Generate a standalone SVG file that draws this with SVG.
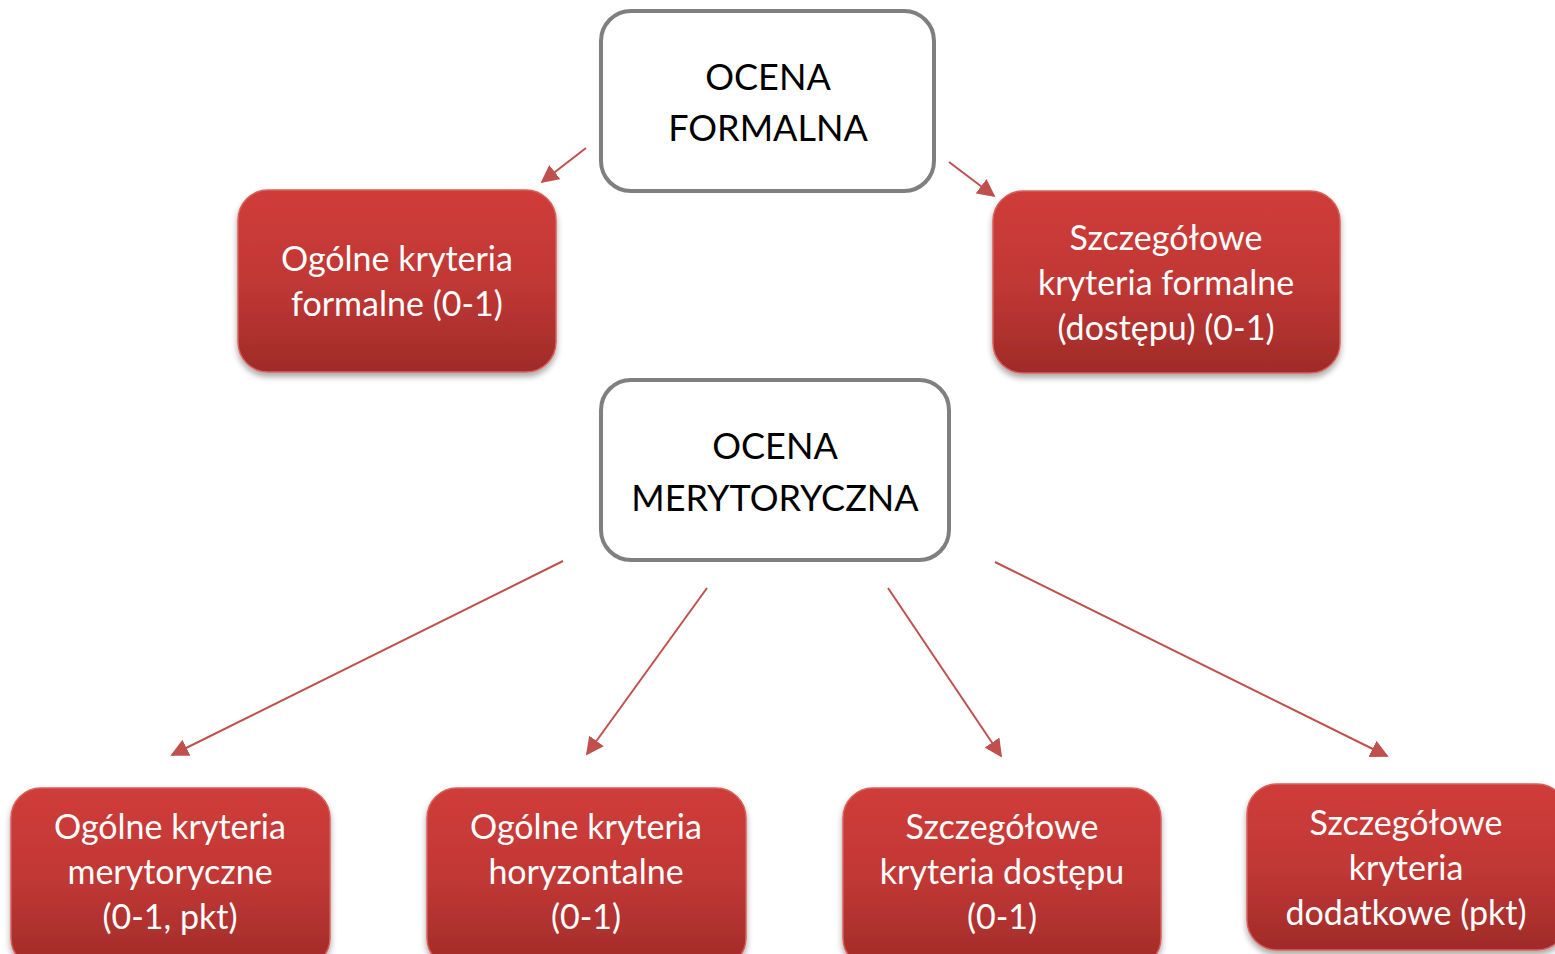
<svg xmlns="http://www.w3.org/2000/svg" width="1555" height="954" viewBox="0 0 1555 954">
  <defs>
    <linearGradient id="redFill" x1="0" y1="0" x2="0" y2="1">
      <stop offset="0" stop-color="#cf3c39"/>
      <stop offset="0.5" stop-color="#c13835"/>
      <stop offset="1" stop-color="#a02b29"/>
    </linearGradient>
    <filter id="shadow" x="-10%" y="-10%" width="120%" height="125%">
      <feGaussianBlur in="SourceAlpha" stdDeviation="3"/>
      <feOffset dx="0" dy="4" result="b"/>
      <feComponentTransfer><feFuncA type="linear" slope="0.35"/></feComponentTransfer>
      <feMerge><feMergeNode/><feMergeNode in="SourceGraphic"/></feMerge>
    </filter>
    <marker id="headBig" viewBox="0 0 10 10" refX="9" refY="5" markerWidth="18" markerHeight="18" markerUnits="userSpaceOnUse" orient="auto">
      <path d="M0,0 L10,5 L0,10 z" fill="#c0504d"/>
    </marker>
  </defs>
  <style>
    .white { fill: #ffffff; stroke: #7f7f7f; stroke-width: 4; }
    .red { fill: url(#redFill); stroke: #d6605c; stroke-width: 1.5; filter: url(#shadow); }
    .dark { font-family: Lato, "Open Sans", sans-serif; font-size: 36px; fill: #000000; text-anchor: middle; }
    .light { font-family: Lato, "Open Sans", sans-serif; font-size: 34px; fill: #ffffff; text-anchor: middle; }
    .conn { stroke: #c0504d; stroke-width: 2; fill: none; }
  </style>

  <g id="connectors">
    <line class="conn" x1="586" y1="148" x2="542" y2="182" marker-end="url(#headBig)"/>
    <line class="conn" x1="949" y1="162" x2="994" y2="196" marker-end="url(#headBig)"/>
    <line class="conn" x1="563" y1="561" x2="172" y2="755" marker-end="url(#headBig)"/>
    <line class="conn" x1="707" y1="588" x2="587" y2="754" marker-end="url(#headBig)"/>
    <line class="conn" x1="888" y1="588" x2="1001" y2="756" marker-end="url(#headBig)"/>
    <line class="conn" x1="995" y1="562" x2="1387" y2="756" marker-end="url(#headBig)"/>
  </g>

  <g id="ocena-formalna">
    <rect class="white" x="601" y="11" width="333" height="180" rx="30"/>
    <text class="dark" x="768" y="90">OCENA</text>
    <text class="dark" x="768" y="141">FORMALNA</text>
  </g>

  <g id="ocena-merytoryczna">
    <rect class="white" x="601" y="380" width="348" height="180" rx="30"/>
    <text class="dark" x="775" y="459">OCENA</text>
    <text class="dark" x="775" y="511">MERYTORYCZNA</text>
  </g>

  <g id="ogolne-formalne">
    <rect class="red" x="238" y="190" width="318" height="182" rx="30"/>
    <text class="light" x="397" y="271">Ogólne kryteria</text>
    <text class="light" x="397" y="316">formalne (0-1)</text>
  </g>

  <g id="szczegolowe-formalne">
    <rect class="red" x="993" y="191" width="347" height="182" rx="30"/>
    <text class="light" x="1166" y="250">Szczegółowe</text>
    <text class="light" x="1166" y="295">kryteria formalne</text>
    <text class="light" x="1166" y="340">(dostępu) (0-1)</text>
  </g>

  <g id="ogolne-merytoryczne">
    <rect class="red" x="11" y="788" width="319" height="180" rx="30"/>
    <text class="light" x="170" y="839">Ogólne kryteria</text>
    <text class="light" x="170" y="884">merytoryczne</text>
    <text class="light" x="170" y="929">(0-1, pkt)</text>
  </g>

  <g id="ogolne-horyzontalne">
    <rect class="red" x="427" y="788" width="319" height="180" rx="30"/>
    <text class="light" x="586" y="839">Ogólne kryteria</text>
    <text class="light" x="586" y="884">horyzontalne</text>
    <text class="light" x="586" y="929">(0-1)</text>
  </g>

  <g id="szczegolowe-dostepu">
    <rect class="red" x="843" y="788" width="318" height="180" rx="30"/>
    <text class="light" x="1002" y="839">Szczegółowe</text>
    <text class="light" x="1002" y="884">kryteria dostępu</text>
    <text class="light" x="1002" y="929">(0-1)</text>
  </g>

  <g id="szczegolowe-dodatkowe">
    <rect class="red" x="1247" y="784" width="320" height="166" rx="30"/>
    <text class="light" x="1406" y="835">Szczegółowe</text>
    <text class="light" x="1406" y="880">kryteria</text>
    <text class="light" x="1406" y="925">dodatkowe (pkt)</text>
  </g>
</svg>
